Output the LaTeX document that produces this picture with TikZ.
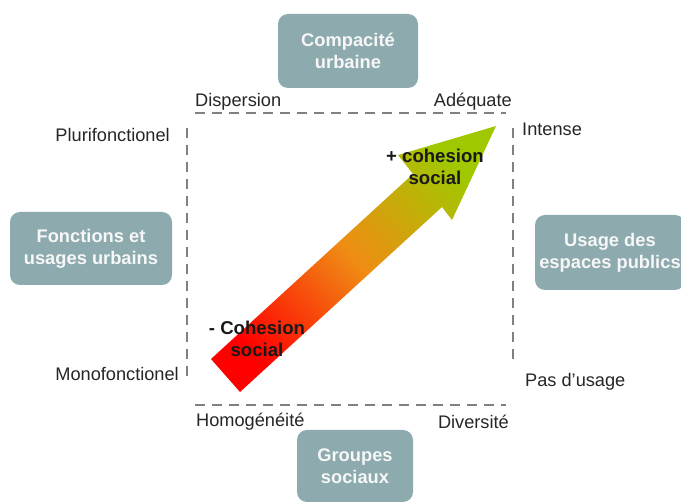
\documentclass[tikz,border=0pt]{standalone}
\usepackage{fontspec}
\setmainfont{Liberation Sans}
\begin{document}
\begin{tikzpicture}[x=1pt,y=-1pt]
\definecolor{boxc}{RGB}{141,170,175}
\definecolor{dashc}{RGB}{128,128,128}
\definecolor{headc}{RGB}{160,200,0}
\definecolor{midc}{RGB}{240,140,20}
\tikzset{
  catbox/.style={fill=boxc, rounded corners=10pt, text=white!94!gray, font=\fontsize{18.3}{22}\selectfont\bfseries, align=center, inner sep=0pt},
  axis/.style={draw=dashc, line width=2.6pt, dash pattern=on 10pt off 7pt},
  lab/.style={font=\fontsize{18.2}{20}\selectfont, text=black!85, inner sep=0pt},
  coh/.style={font=\fontsize{18.6}{22}\selectfont\bfseries, text=black!90, align=center, inner sep=0pt}
}
\useasboundingbox (0,0) rectangle (681,502);
\fill[white] (0,0) rectangle (681,502);
% category boxes
\node[catbox, minimum width=140pt, minimum height=74pt] (comp) at (348,51) {Compacit\'e\\urbaine};
\node[catbox, minimum width=162pt, minimum height=73pt] (fonc) at (91,248.5) {Fonctions et\\usages urbains};
\node[catbox, minimum width=150pt, minimum height=75pt] (usag) at (610,252.5) {Usage des\\espaces publics};
\node[catbox, minimum width=116pt, minimum height=72pt] (grp) at (355,466) {Groupes\\sociaux};
% axes
\coordinate (tl) at (195,113); \coordinate (tr) at (506,113);
\coordinate (bl) at (195,405); \coordinate (br) at (506,405);
\coordinate (lt) at (187,128); \coordinate (lb) at (187,381);
\coordinate (rt) at (513,128); \coordinate (rb) at (513,366);
\draw[axis] (tl) -- (tr);
\draw[axis] (bl) -- (br);
\draw[axis] (lt) -- (lb);
\draw[axis] (rt) -- (rb);
% axis labels
\node[lab, anchor=base west] (disp) at (195,107) {Dispersion};
\node[lab, anchor=base east] (adeq) at (512,107) {Ad\'equate};
\node[lab, anchor=base east] (pluri) at (170,142) {Plurifonctionel};
\node[lab, anchor=base west] (inten) at (522,136) {Intense};
\node[lab, anchor=base east] (mono) at (179,381) {Monofonctionel};
\node[lab, anchor=base west] (pas) at (525,387) {Pas d'usage};
\node[lab, anchor=base west] (homo) at (196,427) {Homog\'en\'eit\'e};
\node[lab, anchor=base east] (div) at (509,429) {Diversit\'e};
% arrow
\shade[top color=headc, bottom color=red, middle color=midc, shading angle=-47]
  (211,359) -- (413,174) -- (398,155) -- (496,126) -- (452,220) -- (442,207) -- (240,392) -- cycle;
\node[coh] (plus) at (435,167) {+ cohesion\\social};
\node[coh] (minus) at (257,339) {- Cohesion\\social};
\end{tikzpicture}
\end{document}
